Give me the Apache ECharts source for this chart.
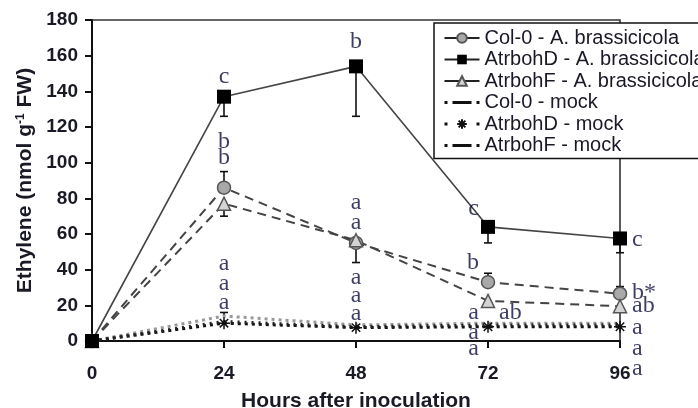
<!DOCTYPE html>
<html>
<head>
<meta charset="utf-8">
<script src="https://cdn.jsdelivr.net/npm/echarts@6/dist/echarts.min.js"></script>
<style>html,body{margin:0;padding:0;background:#fff;}#c{width:698px;height:408px;}</style>
</head>
<body>
<div id="c"></div>
<script>
// ---- data ----
const hours = [0, 24, 48, 72, 96];
const xTicks = ['0', '24', '48', '72', '96'];
const col0Ab = [0, 86, 55, 33, 26.5];
const atrbohDAb = [0, 137, 154, 64, 57.5];
const atrbohFAb = [0, 77, 56.5, 22.5, 19.5];
const col0Mock = [0, 14, 9, 10, 10];
const atrbohDMock = [0, 10, 7.5, 8, 8];
const atrbohFMock = [0, 11, 8, 9, 9];
// error bars (plus / minus)
const col0AbPlus = [0, 9, 0, 5, 4];
const col0AbMinus = [0, 0, 11, 0, 0];
const atrbohDAbPlus = [0, 0, 0, 0, 0];
const atrbohDAbMinus = [0, 11, 28, 9, 8];
const atrbohFAbPlus = [0, 0, 0, 0, 0];
const atrbohFAbMinus = [0, 7, 0, 0, 0];
const col0MockPlus = [0, 2, 0, 0, 0];
const col0MockMinus = [0, 0, 0, 0, 0];
// significance letters: hour, value, text
const letterHour = [24, 24, 24, 24, 24, 24, 48, 48, 48, 48, 48, 48, 72, 72, 72, 72, 72, 72, 96, 96, 96, 96, 96, 96];
const letterValue = [148.7, 112.4, 103.4, 44, 32.7, 21.9, 168.5, 78, 67, 36, 26, 15.7, 75, 44.5, 16.2, 16.2, 5, -4, 57.6, 27.6, 20.2, 7.8, -3.5, -14.8];
const letterText = ['c', 'b', 'b', 'a', 'a', 'a', 'b', 'a', 'a', 'a', 'a', 'a', 'c', 'b', 'a', 'ab', 'a', 'a', 'c', 'b*', 'ab', 'a', 'a', 'a'];
const legendNames = ['Col-0 - A. brassicicola', 'AtrbohD - A. brassicicola', 'AtrbohF - A. brassicicola', 'Col-0 - mock', 'AtrbohD - mock', 'AtrbohF - mock'];

// ---- build ----
const pairs = v => hours.map((h, i) => [h, v[i]]);
const asterisk = 'path://M10,0 L10,20 M0,10 L20,10 M3,3 L17,17 M17,3 L3,17';
const dotDashDot = 'path://M0,0 L3,0 L3,3 L0,3 Z M8,0 L27,0 L27,3 L8,3 Z M32,0 L35,0 L35,3 L32,3 Z';

function errSeries(vals, plus, minus) {
  return {
    type: 'custom', silent: true, z: 1, clip: false,
    data: hours.map((h, i) => [h, vals[i], plus[i], minus[i]]),
    encode: { x: 0, y: 1 },
    renderItem: function (params, api) {
      const x = api.value(0), y = api.value(1), p = api.value(2), m = api.value(3);
      const c = api.coord([x, y]);
      const st = { stroke: '#111', lineWidth: 1.6 };
      const hw = 4;
      const ch = [];
      if (p > 0) {
        const t = api.coord([x, y + p]);
        ch.push({ type: 'line', shape: { x1: c[0], y1: c[1], x2: t[0], y2: t[1] }, style: st });
        ch.push({ type: 'line', shape: { x1: t[0] - hw, y1: t[1], x2: t[0] + hw, y2: t[1] }, style: st });
      }
      if (m > 0) {
        const b = api.coord([x, y - m]);
        ch.push({ type: 'line', shape: { x1: c[0], y1: c[1], x2: b[0], y2: b[1] }, style: st });
        ch.push({ type: 'line', shape: { x1: b[0] - hw, y1: b[1], x2: b[0] + hw, y2: b[1] }, style: st });
      }
      return { type: 'group', children: ch };
    }
  };
}

function placement(h, t) {
  if (h === 96) return { align: 'left', offset: [12, 1] };
  if (h === 72 && t === 'ab') return { align: 'left', offset: [11, 1] };
  if (h === 72) return { align: 'right', offset: [-9, 1] };
  return { align: 'center', offset: [0, 1] };
}

const letterData = letterHour.map((h, i) => {
  const pl = placement(h, letterText[i]);
  return {
    value: [h, letterValue[i]],
    label: { formatter: letterText[i], align: pl.align, offset: pl.offset }
  };
});

const font = 'Liberation Sans, Arial, sans-serif';
const dark = '#1a1a26';
const solidLegendLine = { type: 'solid', width: 2, color: '#222' };

const option = {
  animation: false,
  backgroundColor: '#fff',
  grid: { left: 92, right: 78, top: 20, bottom: 67, containLabel: false, outerBoundsMode: 'none',
    show: true, borderColor: '#333', borderWidth: 1.6, backgroundColor: 'transparent' },
  legend: {
    data: [
      { name: legendNames[0], lineStyle: solidLegendLine },
      { name: legendNames[1], lineStyle: solidLegendLine },
      { name: legendNames[2], lineStyle: solidLegendLine },
      { name: legendNames[3], icon: dotDashDot, itemStyle: { color: '#111', borderWidth: 0 } },
      { name: legendNames[4], lineStyle: { type: [3, 29], width: 3, color: '#111' } },
      { name: legendNames[5], icon: dotDashDot, itemStyle: { color: '#111', borderWidth: 0 } }
    ],
    orient: 'vertical', left: 434, top: 23,
    padding: [5, 12, 3, 9],
    itemGap: 1.5, itemWidth: 35, itemHeight: 12,
    backgroundColor: '#fff', borderColor: '#111', borderWidth: 1.5,
    textStyle: { fontFamily: font, fontSize: 20, color: dark, lineHeight: 20 }
  },
  xAxis: {
    type: 'value', min: 0, max: 96, interval: 24,
    name: 'Hours after inoculation', nameLocation: 'middle', nameGap: 50,
    nameTextStyle: { fontFamily: font, fontSize: 21, fontWeight: 'bold', color: dark },
    axisLine: { show: true, lineStyle: { color: '#111', width: 2 } },
    axisTick: { show: true, inside: false, length: 7, lineStyle: { color: '#111', width: 2 } },
    axisLabel: { margin: 23, fontFamily: font, fontSize: 19, fontWeight: 'bold', color: dark,
      formatter: v => xTicks[hours.indexOf(v)] },
    splitLine: { show: false }
  },
  yAxis: {
    type: 'value', min: 0, max: 180, interval: 20,
    name: 'Ethylene (nmol g{sup|-1} FW)', nameLocation: 'middle', nameGap: 55,
    nameTextStyle: { fontFamily: font, fontSize: 21, fontWeight: 'bold', color: dark,
      rich: { sup: { fontFamily: font, fontSize: 12, fontWeight: 'bold', color: dark, verticalAlign: 'top', padding: [0, 0, 8, 0] } } },
    axisLine: { show: true, lineStyle: { color: '#111', width: 2 } },
    axisTick: { show: true, inside: false, length: 7, lineStyle: { color: '#111', width: 2 } },
    axisLabel: { margin: 14, fontFamily: font, fontSize: 19, fontWeight: 'bold', color: dark },
    splitLine: { show: false }
  },
  series: [
    errSeries(col0Ab, col0AbPlus, col0AbMinus),
    errSeries(atrbohDAb, atrbohDAbPlus, atrbohDAbMinus),
    errSeries(atrbohFAb, atrbohFAbPlus, atrbohFAbMinus),
    errSeries(col0Mock, col0MockPlus, col0MockMinus),
    {
      name: legendNames[0], type: 'line', data: pairs(col0Ab), z: 4, clip: false,
      symbol: 'circle', symbolSize: 13,
      lineStyle: { color: '#444', width: 2, type: [9, 6] },
      itemStyle: { color: '#a8a8a8', borderColor: '#555', borderWidth: 1.5 }
    },
    {
      name: legendNames[1], type: 'line', data: pairs(atrbohDAb), z: 5, clip: false,
      symbol: 'rect', symbolSize: 14,
      lineStyle: { color: '#444', width: 1.6, type: 'solid' },
      itemStyle: { color: '#000', borderColor: '#000', borderWidth: 0 }
    },
    {
      name: legendNames[2], type: 'line', data: pairs(atrbohFAb), z: 4, clip: false,
      symbol: 'triangle', symbolSize: 13,
      lineStyle: { color: '#444', width: 2, type: [9, 6] },
      itemStyle: { color: '#d4d4d4', borderColor: '#555', borderWidth: 1.5 }
    },
    {
      name: legendNames[3], type: 'line', data: pairs(col0Mock), z: 3, clip: false,
      symbol: 'none',
      lineStyle: { color: '#999', width: 3, type: [3, 4] },
      itemStyle: { color: '#111' }
    },
    {
      name: legendNames[4], type: 'line', data: pairs(atrbohDMock), z: 3, clip: false,
      symbol: asterisk, symbolSize: 12,
      lineStyle: { color: '#111', width: 3, type: [3, 4] },
      itemStyle: { color: '#111', borderColor: '#111', borderWidth: 1.5 }
    },
    {
      name: legendNames[5], type: 'line', data: pairs(atrbohFMock), z: 3, clip: false,
      symbol: 'none',
      lineStyle: { color: '#222', width: 3, type: [2, 5] },
      itemStyle: { color: '#111' }
    },
    {
      type: 'scatter', silent: true, z: 6, clip: false,
      symbolSize: 0,
      data: letterData,
      label: { show: true, position: 'inside', verticalAlign: 'middle',
        fontFamily: 'Liberation Serif, Times New Roman, serif', fontSize: 24, color: '#0e0e3c' }
    }
  ]
};

const chart = echarts.init(document.getElementById('c'), null, { renderer: 'canvas' });
chart.setOption(option);
</script>
</body>
</html>
